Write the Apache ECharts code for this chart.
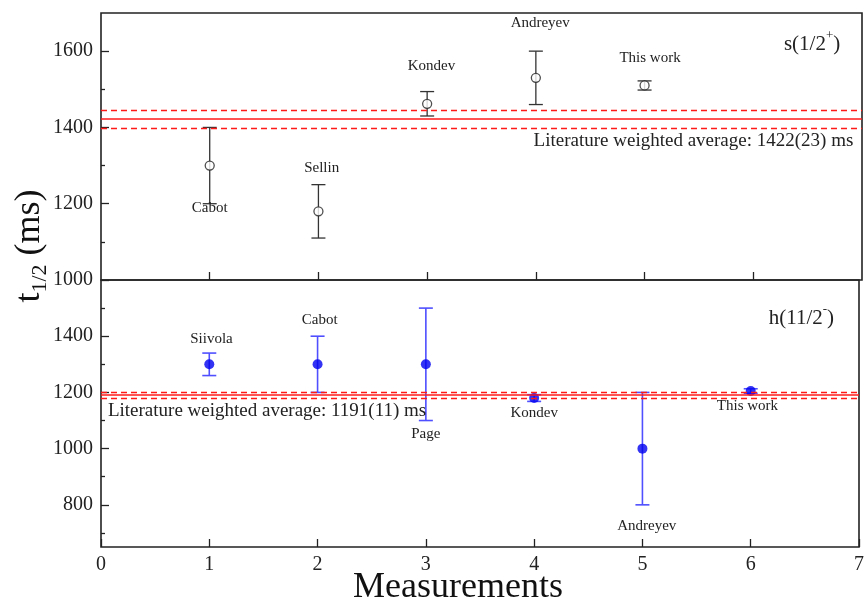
<!DOCTYPE html>
<html>
<head>
<meta charset="utf-8">
<script src="https://cdn.jsdelivr.net/npm/echarts@6/dist/echarts.min.js"></script>
<style>
  html, body { margin: 0; padding: 0; background: #fff; }
  #chart { width: 867px; height: 606px; }
</style>
</head>
<body>
<div id="chart"></div>
<script>
// s(1/2+) state: half-life measurements (ms) with uncertainties
const sX = [1, 2, 3, 4, 5];
const sVal = [1300, 1180, 1462, 1530, 1510];
const sErr = [100, 70, 32, 70, 12];
const sNames = ['Cabot', 'Sellin', 'Kondev', 'Andreyev', 'This work'];
const sLabelX = [1.0, 2.03, 3.04, 4.04, 5.05];
const sLabelY = [1188, 1294, 1560, 1674, 1582];
const sAvg = 1422, sAvgErr = 23;

// h(11/2-) state
const hX = [1, 2, 3, 4, 5, 6];
const hVal = [1300, 1300, 1300, 1180, 1000, 1205];
const hErr = [40, 100, 200, 12, 200, 8];
const hNames = ['Siivola', 'Cabot', 'Page', 'Kondev', 'Andreyev', 'This work'];
const hLabelX = [1.02, 2.02, 3.0, 4.0, 5.04, 5.97];
const hLabelY = [1390, 1459, 1053, 1125, 723, 1151];
const hAvg = 1191, hAvgErr = 11;

// axis ticks
const xTickValues = [0, 1, 2, 3, 4, 5, 6, 7];
const sMajorTicks = [1000, 1200, 1400, 1600];
const sMinorTicks = [1100, 1300, 1500];
const hMajorTicks = [800, 1000, 1200, 1400];
const hMinorTicks = [700, 900, 1100, 1300, 1500];

const SERIF = '"Liberation Serif", "DejaVu Serif", serif';
const INK = '#222';
const RED = '#ff1a1a';

const chart = echarts.init(document.getElementById('chart'), null, { renderer: 'canvas' });

function errorBarSeries(xi, yi, xs, vals, errs, color, width) {
  return {
    type: 'custom',
    xAxisIndex: xi, yAxisIndex: yi,
    encode: { x: 0, y: 1 },
    data: xs.map((x, i) => [x, vals[i], errs[i]]),
    z: 3,
    renderItem: function (params, api) {
      const x = api.value(0), v = api.value(1), e = api.value(2);
      const hi = api.coord([x, v + e]);
      const lo = api.coord([x, v - e]);
      const cw = 7;
      const st = { stroke: color, lineWidth: width, fill: null };
      return {
        type: 'group',
        children: [
          { type: 'line', shape: { x1: hi[0], y1: hi[1], x2: lo[0], y2: lo[1] }, style: st },
          { type: 'line', shape: { x1: hi[0] - cw, y1: hi[1], x2: hi[0] + cw, y2: hi[1] }, style: st },
          { type: 'line', shape: { x1: lo[0] - cw, y1: lo[1], x2: lo[0] + cw, y2: lo[1] }, style: st }
        ]
      };
    }
  };
}

function textSeries(xi, yi, rows, fontSize, align) {
  return {
    type: 'custom',
    xAxisIndex: xi, yAxisIndex: yi,
    encode: { x: 0, y: 1 },
    data: rows,
    z: 5,
    silent: true,
    renderItem: function (params, api) {
      const p = api.coord([api.value(0), api.value(1)]);
      const row = rows[params.dataIndex];
      return {
        type: 'text',
        x: p[0], y: p[1],
        style: {
          text: row[2],
          fontSize: fontSize,
          fontFamily: SERIF,
          fill: INK,
          align: align || 'center',
          verticalAlign: 'middle'
        }
      };
    }
  };
}

function avgLines(avg, err) {
  return {
    silent: true,
    symbol: 'none',
    label: { show: false },
    data: [
      { yAxis: avg, lineStyle: { color: RED, width: 1.6, type: 'solid' } },
      { yAxis: avg - err, lineStyle: { color: RED, width: 1.3, type: [6, 4] } },
      { yAxis: avg + err, lineStyle: { color: RED, width: 1.3, type: [6, 4] } }
    ]
  };
}

function stateLabel(xi, yi, x, y, main, sup) {
  return {
    type: 'custom',
    xAxisIndex: xi, yAxisIndex: yi,
    encode: { x: 0, y: 1 },
    data: [[x, y]],
    z: 5,
    silent: true,
    renderItem: function (params, api) {
      const p = api.coord([api.value(0), api.value(1)]);
      return {
        type: 'text',
        x: p[0], y: p[1],
        style: {
          text: '{a|' + main + '}{b|' + sup + '}{a|)}',
          align: 'right',
          verticalAlign: 'middle',
          rich: {
            a: { fontSize: 21, fontFamily: SERIF, fill: INK, lineHeight: 26, verticalAlign: 'bottom' },
            b: { fontSize: 13, fontFamily: SERIF, fill: INK, lineHeight: 26, verticalAlign: 'top' }
          }
        }
      };
    }
  };
}

const plain = v => String(v);

function xAxisDef(gridIndex, showLabels) {
  return {
    type: 'value', gridIndex: gridIndex,
    min: 0, max: 7, interval: 1,
    axisLine: { show: false },
    splitLine: { show: false },
    axisTick: { show: true, inside: true, length: 8, lineStyle: { color: INK, width: 1.3 }, customValues: gridIndex === 0 ? [1, 2, 3, 4, 5, 6] : xTickValues },
    axisLabel: { show: showLabels, fontSize: 20, fontFamily: SERIF, color: INK, margin: 8, customValues: xTickValues, formatter: plain }
  };
}

function yAxisDef(gridIndex, min, max, ticks, major) {
  return {
    type: 'value', gridIndex: gridIndex,
    position: 'left',
    min: min, max: max,
    axisLine: { show: false },
    splitLine: { show: false },
    axisTick: { show: true, inside: true, length: major ? 8 : 4, lineStyle: { color: INK, width: 1.3 }, customValues: ticks },
    axisLabel: { show: major, fontSize: 20, fontFamily: SERIF, color: INK, margin: 8, customValues: ticks, formatter: plain }
  };
}

const option = {
  backgroundColor: '#fff',
  animation: false,
  grid: [
    { left: 101, top: 13, width: 761, height: 267, show: true, borderColor: INK, borderWidth: 1.6, backgroundColor: 'transparent' },
    { left: 101, top: 280, width: 761, height: 267, show: true, borderColor: INK, borderWidth: 1.6, backgroundColor: 'transparent' }
  ],
  xAxis: [xAxisDef(0, false), xAxisDef(1, true)],
  yAxis: [
    yAxisDef(0, 1000, 1700, sMajorTicks, true),
    yAxisDef(0, 1000, 1700, sMinorTicks, false),
    yAxisDef(1, 650, 1600, hMajorTicks, true),
    yAxisDef(1, 650, 1600, hMinorTicks, false)
  ],
  graphic: [
    {
      type: 'text',
      x: 30, y: 246,
      rotation: Math.PI / 2,
      style: {
        text: '{t|t}{s|1/2}{m| (ms)}',
        align: 'center',
        verticalAlign: 'middle',
        rich: {
          t: { fontSize: 36, fontFamily: SERIF, fill: '#111', lineHeight: 42, verticalAlign: 'middle' },
          s: { fontSize: 22, fontFamily: SERIF, fill: '#111', lineHeight: 42, verticalAlign: 'bottom' },
          m: { fontSize: 36, fontFamily: SERIF, fill: '#111', lineHeight: 42, verticalAlign: 'middle' }
        }
      }
    },
    {
      type: 'text',
      x: 458, y: 588,
      style: {
        text: 'Measurements',
        fontSize: 36,
        fontFamily: SERIF,
        fill: '#111',
        align: 'center',
        verticalAlign: 'middle'
      }
    }
  ],
  series: [
    // s(1/2+) panel
    errorBarSeries(0, 0, sX, sVal, sErr, '#333', 1.3),
    {
      type: 'scatter', xAxisIndex: 0, yAxisIndex: 0,
      data: sX.map((x, i) => [x, sVal[i]]),
      symbol: 'circle', symbolSize: 9,
      itemStyle: { color: '#fff', borderColor: '#222', borderWidth: 1.3 },
      z: 4,
      markLine: avgLines(sAvg, sAvgErr)
    },
    textSeries(0, 0, sNames.map((n, i) => [sLabelX[i], sLabelY[i], n]), 15),
    textSeries(0, 0, [[6.92, 1364, 'Literature weighted average: ' + sAvg + '(' + sAvgErr + ') ms']], 19, 'right'),
    stateLabel(0, 0, 6.8, 1623, 's(1/2', '+'),

    // h(11/2-) panel
    errorBarSeries(1, 2, hX, hVal, hErr, '#4f4fff', 1.6),
    {
      type: 'scatter', xAxisIndex: 1, yAxisIndex: 2,
      data: hX.map((x, i) => [x, hVal[i]]),
      symbol: 'circle', symbolSize: 10,
      itemStyle: { color: '#0000f0' },
      z: 4,
      markLine: avgLines(hAvg, hAvgErr)
    },
    textSeries(1, 2, hNames.map((n, i) => [hLabelX[i], hLabelY[i], n]), 15),
    textSeries(1, 2, [[0.064, 1133, 'Literature weighted average: ' + hAvg + '(' + hAvgErr + ') ms']], 19, 'left'),
    stateLabel(1, 2, 6.77, 1471, 'h(11/2', '-')
  ]
};

chart.setOption(option);
</script>
</body>
</html>
